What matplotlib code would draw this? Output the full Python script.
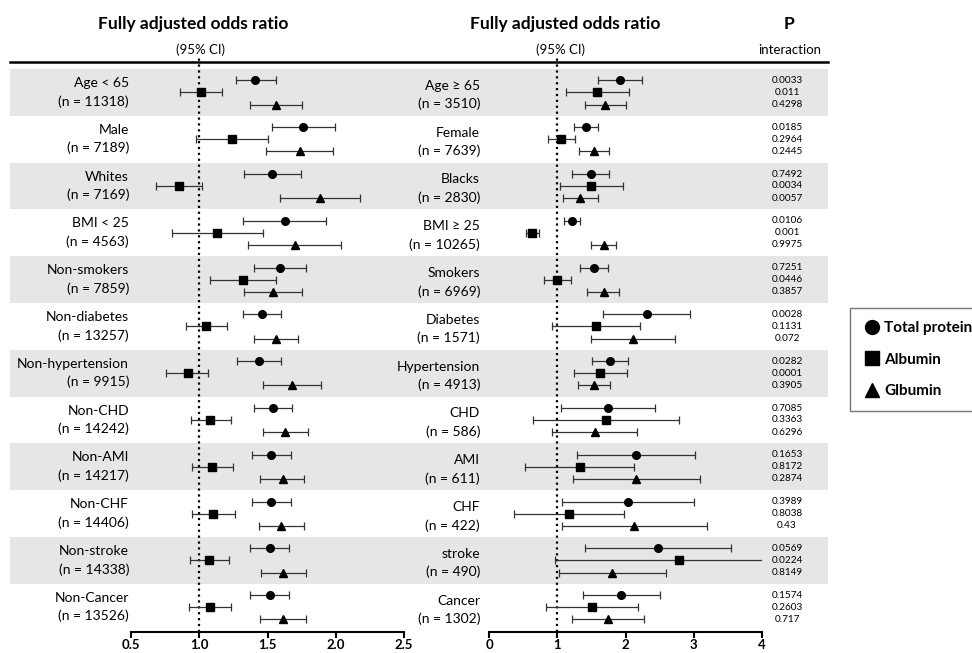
import numpy as np
import matplotlib
matplotlib.use("Agg")
import matplotlib.pyplot as plt
from matplotlib.lines import Line2D
from matplotlib.patches import Rectangle

plt.rcParams['font.family'] = ['Lato', 'DejaVu Sans']

# subgroup labels and sizes
left_labels = ["Age < 65", "Male", "Whites", "BMI < 25", "Non-smokers", "Non-diabetes",
               "Non-hypertension", "Non-CHD", "Non-AMI", "Non-CHF", "Non-stroke", "Non-Cancer"]
left_n = [11318, 7189, 7169, 4563, 7859, 13257, 9915, 14242, 14217, 14406, 14338, 13526]
right_labels = ["Age ≥ 65", "Female", "Blacks", "BMI ≥ 25", "Smokers", "Diabetes",
                "Hypertension", "CHD", "AMI", "CHF", "stroke", "Cancer"]
right_n = [3510, 7639, 2830, 10265, 6969, 1571, 4913, 586, 611, 422, 490, 1302]

# odds ratios (point, lower, upper) - left panel
tp_left = [1.41, 1.76, 1.535, 1.63, 1.59, 1.46, 1.435, 1.54, 1.525, 1.525, 1.52, 1.52]
tp_left_lo = [1.27, 1.535, 1.33, 1.32, 1.40, 1.32, 1.28, 1.40, 1.385, 1.385, 1.375, 1.375]
tp_left_hi = [1.56, 1.995, 1.745, 1.93, 1.78, 1.60, 1.60, 1.68, 1.67, 1.67, 1.66, 1.66]
alb_left = [1.01, 1.24, 0.85, 1.13, 1.32, 1.05, 0.915, 1.08, 1.095, 1.10, 1.07, 1.08]
alb_left_lo = [0.86, 0.974, 0.68, 0.80, 1.08, 0.90, 0.76, 0.94, 0.95, 0.95, 0.93, 0.925]
alb_left_hi = [1.17, 1.50, 1.02, 1.47, 1.56, 1.20, 1.065, 1.23, 1.25, 1.26, 1.22, 1.235]
glb_left = [1.56, 1.74, 1.885, 1.70, 1.54, 1.56, 1.68, 1.63, 1.61, 1.60, 1.61, 1.61]
glb_left_lo = [1.37, 1.49, 1.59, 1.36, 1.33, 1.40, 1.47, 1.47, 1.445, 1.435, 1.45, 1.445]
glb_left_hi = [1.75, 1.98, 2.18, 2.04, 1.75, 1.72, 1.89, 1.80, 1.77, 1.77, 1.78, 1.78]

# right panel
tp_right = [1.92, 1.42, 1.49, 1.22, 1.535, 2.31, 1.775, 1.74, 2.15, 2.03, 2.48, 1.94]
tp_right_lo = [1.59, 1.25, 1.22, 1.105, 1.34, 1.67, 1.51, 1.06, 1.29, 1.07, 1.41, 1.37]
tp_right_hi = [2.24, 1.60, 1.76, 1.335, 1.74, 2.94, 2.04, 2.43, 3.02, 3.00, 3.55, 2.50]
alb_right = [1.58, 1.05, 1.50, 0.636, 1.00, 1.57, 1.63, 1.71, 1.33, 1.17, 2.79, 1.51]
alb_right_lo = [1.125, 0.865, 1.04, 0.54, 0.81, 0.93, 1.24, 0.645, 0.53, 0.37, 0.97, 0.83]
alb_right_hi = [2.05, 1.26, 1.96, 0.73, 1.20, 2.215, 2.02, 2.78, 2.13, 1.98, 4.10, 2.19]
glb_right = [1.70, 1.545, 1.34, 1.68, 1.68, 2.11, 1.54, 1.555, 2.16, 2.13, 1.80, 1.75]
glb_right_lo = [1.41, 1.325, 1.09, 1.49, 1.44, 1.49, 1.305, 0.93, 1.23, 1.075, 1.02, 1.22]
glb_right_hi = [2.00, 1.765, 1.59, 1.86, 1.91, 2.72, 1.78, 2.17, 3.09, 3.19, 2.59, 2.27]

# P interaction
p_tp = ["0.0033", "0.0185", "0.7492", "0.0106", "0.7251", "0.0028", "0.0282", "0.7085", "0.1653", "0.3989", "0.0569", "0.1574"]
p_alb = ["0.011", "0.2964", "0.0034", "0.001", "0.0446", "0.1131", "0.0001", "0.3363", "0.8172", "0.8038", "0.0224", "0.2603"]
p_glb = ["0.4298", "0.2445", "0.0057", "0.9975", "0.3857", "0.072", "0.3905", "0.6296", "0.2874", "0.43", "0.8149", "0.717"]

left_ticks = [0.5, 1.0, 1.5, 2.0, 2.5]
right_ticks = [0, 1, 2, 3, 4]

W, H = 972, 653
fig = plt.figure(figsize=(W / 100, H / 100), dpi=100)

# background axes in pixel coords
bg = fig.add_axes([0, 0, 1, 1])
bg.set_xlim(0, W)
bg.set_ylim(H, 0)
bg.axis('off')

row_top = 69
row_h = 46.8
n_rows = len(left_labels)
offs = [0.244, 0.5, 0.76]  # circle, square, triangle

def ypix(u):
    return row_top + row_h * u

for i in range(0, n_rows, 2):
    bg.add_patch(Rectangle((10, ypix(i)), 818, row_h, facecolor='#e6e6e6', edgecolor='none'))
bg.plot([10, 828], [62, 62], color='black', lw=1.8)

bg.text(193, 24, "Fully adjusted odds ratio", ha='center', va='center', fontsize=12.5, fontweight='bold')
bg.text(200, 50, "(95% CI)", ha='center', va='center', fontsize=9.5)
bg.text(565, 24, "Fully adjusted odds ratio", ha='center', va='center', fontsize=12.5, fontweight='bold')
bg.text(560, 50, "(95% CI)", ha='center', va='center', fontsize=9.5)
bg.text(789, 24, "P", ha='center', va='center', fontsize=12.5, fontweight='bold')
bg.text(790, 50, "interaction", ha='center', va='center', fontsize=9.5)

for i in range(n_rows):
    bg.text(129, ypix(i + 0.30), left_labels[i], ha='right', va='center', fontsize=10)
    bg.text(129, ypix(i + 0.69), f"(n = {left_n[i]})", ha='right', va='center', fontsize=10)
    bg.text(480, ypix(i + 0.36), right_labels[i], ha='right', va='center', fontsize=10)
    bg.text(480, ypix(i + 0.75), f"(n = {right_n[i]})", ha='right', va='center', fontsize=10)
    for k, p in enumerate([p_tp[i], p_alb[i], p_glb[i]]):
        bg.text(787, ypix(i + offs[k]), p, ha='center', va='center', fontsize=7.2)

# data axes
ax_bot, ax_top = 632, 55
ylim = ((ax_bot - row_top) / row_h, (ax_top - row_top) / row_h)
axL = fig.add_axes([131 / W, 1 - ax_bot / H, 273 / W, (ax_bot - ax_top) / H])
axR = fig.add_axes([489 / W, 1 - ax_bot / H, 273 / W, (ax_bot - ax_top) / H])

rows = np.arange(n_rows)
series = [
    (axL, [(tp_left, tp_left_lo, tp_left_hi), (alb_left, alb_left_lo, alb_left_hi), (glb_left, glb_left_lo, glb_left_hi)]),
    (axR, [(tp_right, tp_right_lo, tp_right_hi), (alb_right, alb_right_lo, alb_right_hi), (glb_right, glb_right_lo, glb_right_hi)]),
]
markers = ['o', 's', '^']
msizes = [5.5, 6, 5.5]

for ax, data in series:
    ax.set_facecolor('none')
    for k, (est, lo, hi) in enumerate(data):
        est = np.array(est)
        err = [est - np.array(lo), np.array(hi) - est]
        ax.errorbar(est, rows + offs[k], xerr=err, fmt=markers[k], color='black',
                    ecolor='#333333', elinewidth=0.9, capsize=3, capthick=0.9,
                    markersize=msizes[k], zorder=3)
    ax.axvline(1, color='black', ls=':', lw=1.6, zorder=2)
    ax.set_ylim(*ylim)
    ax.set_yticks([])
    for s in ['top', 'right', 'left']:
        ax.spines[s].set_visible(False)
    ax.spines['bottom'].set_linewidth(1.5)
    ax.tick_params(axis='x', width=1.5, length=4, labelsize=9.5, pad=1)

axL.set_xlim(0.5, 2.5)
axL.set_xticks(left_ticks)
axL.set_xticklabels([f"{t:.1f}" for t in left_ticks], fontweight='bold')
axR.set_xlim(0, 4)
axR.set_xticks(right_ticks)
axR.set_xticklabels([str(t) for t in right_ticks], fontweight='bold')

handles = [Line2D([], [], marker=m, ls='none', color='black', markersize=10) for m in markers]
fig.legend(handles, ["Total protein", "Albumin", "Glbumin"], loc='upper left',
           bbox_to_anchor=(850 / W, 1 - 308 / H), frameon=True, fancybox=False,
           edgecolor='#555555', prop={'weight': 'bold', 'size': 11},
           handletextpad=0.2, labelspacing=1.15, borderpad=0.85, handlelength=1.2,
           borderaxespad=0)

fig.savefig("out.png", dpi=100)
